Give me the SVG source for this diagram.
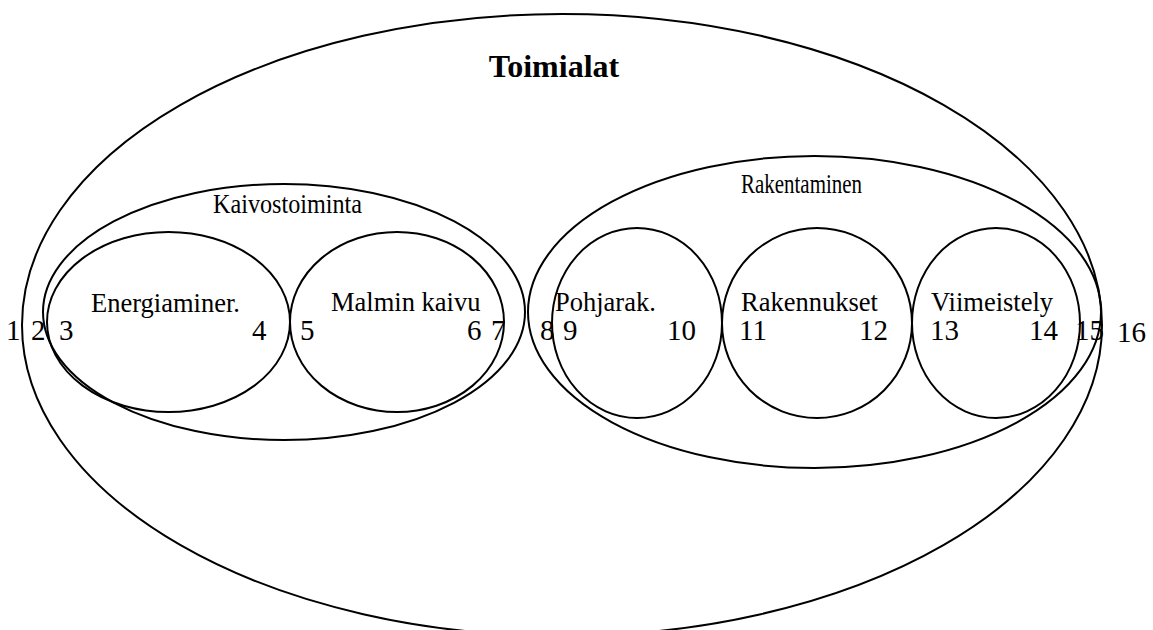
<svg xmlns="http://www.w3.org/2000/svg" width="1153" height="630" viewBox="0 0 1153 630">
  <style>
    .set { fill: none; stroke: #000; stroke-width: 2; }
    .lbl { font-family: "Liberation Serif", "Times New Roman", serif; font-size: 26.5px; fill: #000; }
    .num { font-family: "Liberation Serif", "Times New Roman", serif; font-size: 29px; fill: #000; }
    .title { font-family: "Liberation Serif", "Times New Roman", serif; font-size: 32px; font-weight: bold; fill: #000; }
  </style>
  <rect width="1153" height="630" fill="#fff"/>

  <!-- outermost set: all industries -->
  <g id="toimialat">
    <ellipse class="set" cx="562" cy="325" rx="540" ry="311"/>
    <text class="title" x="554" y="77" text-anchor="middle">Toimialat</text>
  </g>

  <!-- mining branch -->
  <g id="kaivostoiminta">
    <ellipse class="set" cx="284" cy="312" rx="241" ry="128"/>
    <text class="lbl" x="213" y="213" textLength="149" lengthAdjust="spacingAndGlyphs">Kaivostoiminta</text>
  </g>
  <g id="energiaminer">
    <ellipse class="set" cx="168.5" cy="322" rx="121.5" ry="90"/>
    <text class="lbl" x="91" y="312">Energiaminer.</text>
  </g>
  <g id="malmin-kaivu">
    <ellipse class="set" cx="397" cy="322" rx="107" ry="90"/>
    <text class="lbl" x="331" y="311">Malmin kaivu</text>
  </g>

  <!-- construction branch -->
  <g id="rakentaminen">
    <ellipse class="set" cx="814.5" cy="312" rx="286.5" ry="156"/>
    <text class="lbl" x="741" y="193" textLength="121" lengthAdjust="spacingAndGlyphs">Rakentaminen</text>
  </g>
  <g id="pohjarak">
    <ellipse class="set" cx="637" cy="323" rx="85" ry="95"/>
    <text class="lbl" x="555" y="311">Pohjarak.</text>
  </g>
  <g id="rakennukset">
    <ellipse class="set" cx="817" cy="323" rx="95" ry="95"/>
    <text class="lbl" x="741" y="311">Rakennukset</text>
  </g>
  <g id="viimeistely">
    <ellipse class="set" cx="996" cy="323" rx="84" ry="95"/>
    <text class="lbl" x="931" y="311">Viimeistely</text>
  </g>

  <!-- boundary position numbers along the middle row -->
  <g id="positions">
    <text class="num" x="6" y="340">1</text>
    <text class="num" x="31" y="340">2</text>
    <text class="num" x="59" y="340">3</text>
    <text class="num" x="252" y="340">4</text>
    <text class="num" x="300" y="340">5</text>
    <text class="num" x="467" y="340">6</text>
    <text class="num" x="491" y="340">7</text>
    <text class="num" x="540" y="340">8</text>
    <text class="num" x="563" y="340">9</text>
    <text class="num" x="667" y="340">10</text>
    <text class="num" x="739" y="340">11</text>
    <text class="num" x="859" y="340">12</text>
    <text class="num" x="930" y="340">13</text>
    <text class="num" x="1029" y="340">14</text>
    <text class="num" x="1075" y="340">15</text>
    <text class="num" x="1117" y="342">16</text>
  </g>
</svg>
